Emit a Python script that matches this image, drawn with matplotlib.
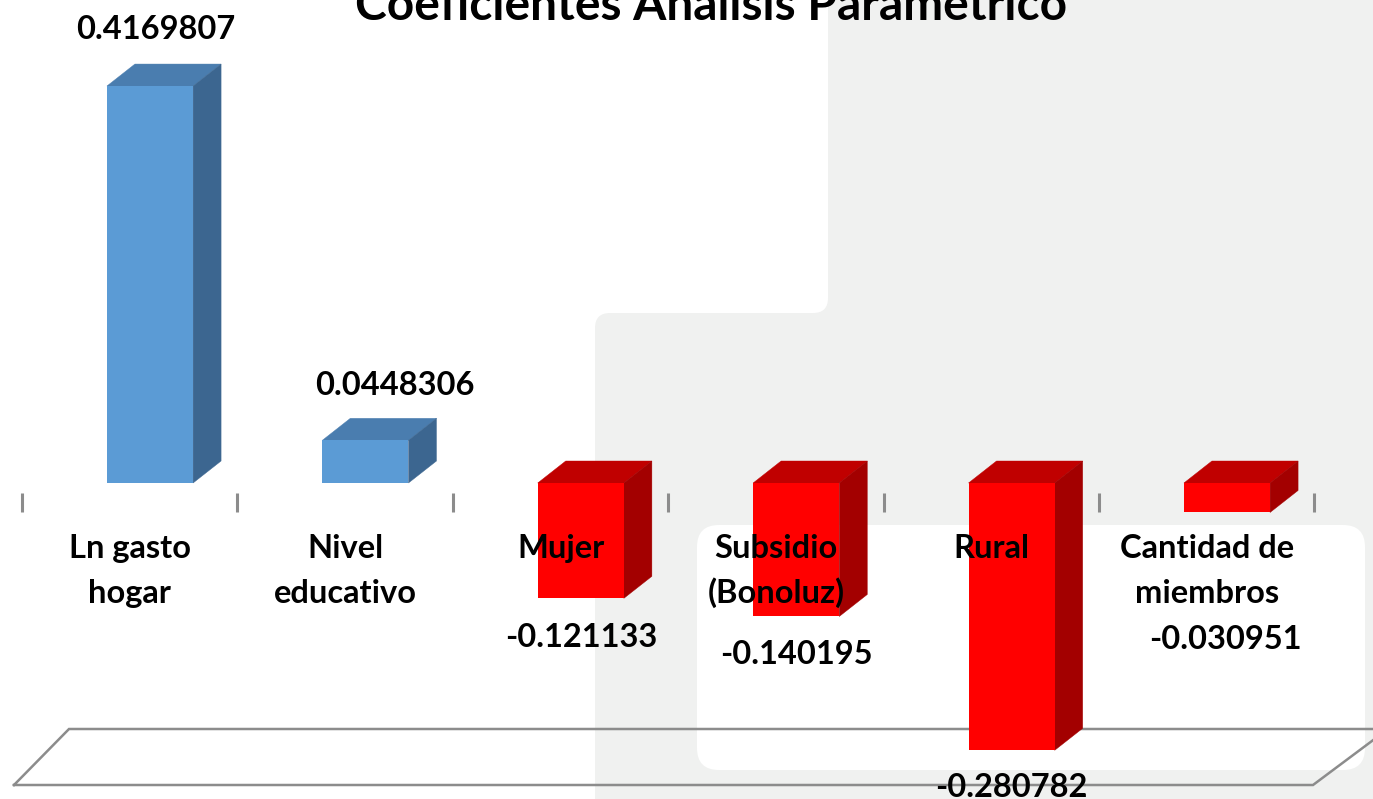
import matplotlib
matplotlib.use('Agg')
import matplotlib.pyplot as plt
from matplotlib.patches import Polygon, FancyBboxPatch, Rectangle
import numpy as np

# ---------------- data ----------------
title = "Coeficientes Análisis Paramétrico"
categories = ["Ln gasto\nhogar", "Nivel\neducativo", "Mujer",
              "Subsidio\n(Bonoluz)", "Rural", "Cantidad de\nmiembros"]
values = [0.4169807, 0.0448306, -0.121133, -0.140195, -0.280782, -0.030951]
value_labels = ["0.4169807", "0.0448306", "-0.121133",
                "-0.140195", "-0.280782", "-0.030951"]

# ---------------- style ----------------
plt.rcParams['font.family'] = ['Lato', 'DejaVu Sans']
W, H = 1373, 799
FS = 23.5
grey = '#F0F1F0'
line_grey = '#8C8C8C'
pos_cols = ('#5B9BD5', '#4A7DAF', '#3C6690')   # front, top, side
neg_cols = ('#FF0000', '#C00000', '#A30000')
# label offsets (px): dx, dy (dy from bar end, positive = down)
lab_dx = [6, 29, 0, 0, 0, -2]
lab_dy = [-47, -45, 49, 48, 47, 137]

fig = plt.figure(figsize=(W / 100, H / 100), dpi=100)

# background (slide decoration) in pixel coordinates
bg = fig.add_axes([0, 0, 1, 1], zorder=0)
bg.set_xlim(0, W)
bg.set_ylim(H, 0)
bg.axis('off')
bg.add_patch(Rectangle((800, 0), W - 800 + 10, 330, fc=grey, ec='none'))
bg.add_patch(FancyBboxPatch((595, 313), W - 595 + 60, H, fc=grey, ec='none',
                            boxstyle='round,pad=0,rounding_size=15'))
bg.add_patch(FancyBboxPatch((-60, -60), 828 + 60, 313 + 60, fc='white', ec='none',
                            boxstyle='round,pad=0,rounding_size=15'))
bg.add_patch(FancyBboxPatch((697, 525), 668, 245, fc='white', ec='none',
                            boxstyle='round,pad=0,rounding_size=22'))
# floor outline
bg.plot([14, 1313, 1388, 69, 14], [785, 785, 729, 729, 785],
        color=line_grey, lw=1.8, solid_joinstyle='miter')

# main axes
ax = fig.add_axes([0, 0, 1, 1], zorder=1)
ax.patch.set_alpha(0)
x0px, step = 150.0, 215.4
zero_px, scale = 483.0, 952.0
ax.set_xlim(-x0px / step, (W - x0px) / step)
ax.set_ylim((zero_px - H) / scale, zero_px / scale)
ax.axis('off')

x = np.arange(len(values))
bw = 0.4
ddx = 28 / step
ddy = 22 / scale
front = [pos_cols[0] if v >= 0 else neg_cols[0] for v in values]
ax.bar(x, values, width=bw, color=front, lw=0, zorder=3)
for xi, v in zip(x, values):
    cols = pos_cols if v >= 0 else neg_cols
    xl, xr = xi - bw / 2, xi + bw / 2
    ytop = max(v, 0)
    top = Polygon([(xl, ytop), (xr, ytop), (xr + ddx, ytop + ddy), (xl + ddx, ytop + ddy)],
                  closed=True, fc=cols[1], ec=cols[1], lw=0.3, zorder=2)
    side = Polygon([(xr, 0), (xr + ddx, ddy), (xr + ddx, v + ddy), (xr, v)],
                   closed=True, fc=cols[2], ec=cols[2], lw=0.3, zorder=2)
    ax.add_patch(top)
    ax.add_patch(side)

# category boundary ticks
shift = -0.094
bounds = np.arange(len(values) + 1) - 0.5 + shift
ax.vlines(bounds, (zero_px - 512) / scale, (zero_px - 493) / scale,
          color=line_grey, lw=2.2, zorder=2)

# category labels
base1 = (zero_px - 558) / scale
base2 = (zero_px - 603) / scale
for xi, cat in zip(x, categories):
    lines = cat.split('\n')
    for ln, b in zip(lines, [base1, base2]):
        ax.text(xi + shift, b, ln, ha='center', va='baseline',
                fontsize=FS, fontweight='bold', color='black', zorder=5)

# value labels
for xi, v, lab, dxp, dyp in zip(x, values, value_labels, lab_dx, lab_dy):
    ax.annotate(lab, (xi, v), xytext=(dxp * 0.72, -dyp * 0.72),
                textcoords='offset points', ha='center', va='baseline',
                fontsize=FS, fontweight='bold', color='black', zorder=5,
                annotation_clip=False)

fig.text(711 / W, 1 - 20 / H, title, ha='center', va='baseline',
         fontsize=34.5, fontweight='bold', color='black')

fig.savefig('out.png', dpi=100)
